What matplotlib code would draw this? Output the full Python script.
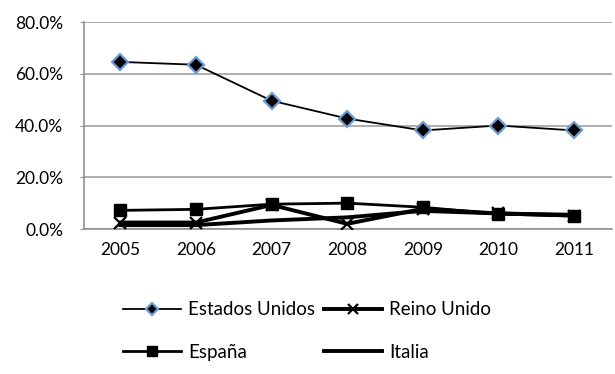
import matplotlib.pyplot as plt
from matplotlib.ticker import FuncFormatter

plt.rcParams['font.family'] = ['Lato', 'DejaVu Sans']

years = ['2005', '2006', '2007', '2008', '2009', '2010', '2011']
estados_unidos = [64.6, 63.5, 49.6, 42.7, 38.1, 40.0, 38.1]
reino_unido = [2.5, 2.5, 9.3, 2.0, 7.8, 6.0, 5.2]
espana = [7.2, 7.6, 9.6, 10.0, 8.4, 5.8, 5.0]
italia = [1.5, 1.5, 3.3, 4.5, 7.0, 6.0, 5.5]

fig = plt.figure(figsize=(6.15, 3.74), dpi=100)
ax = fig.add_axes([0.1366, 0.3877, 0.8584, 0.5533])

x = list(range(len(years)))
l_eu, = ax.plot(x, estados_unidos, color='black', lw=1.3, marker='D', markersize=8,
                markerfacecolor='black', markeredgecolor='#6f9bd3', markeredgewidth=1.6,
                label='Estados Unidos', zorder=5)
l_ru, = ax.plot(x, reino_unido, color='black', lw=2.8, marker='x', markersize=9,
                markeredgewidth=1.6, label='Reino Unido', zorder=4)
l_es, = ax.plot(x, espana, color='black', lw=2.0, marker='s', markersize=8.5,
                label='España', zorder=4)
l_it, = ax.plot(x, italia, color='black', lw=2.8, label='Italia', zorder=3)

ax.set_xlim(-0.48, 6.5)
ax.set_ylim(0, 80)
ax.set_yticks([0, 20, 40, 60, 80])
ax.yaxis.set_major_formatter(FuncFormatter(lambda v, p: f'{v:.1f}%'))
ax.set_xticks(x)
ax.set_xticklabels(years)
ax.grid(axis='y', color='#a0a0a0', lw=1.2)
ax.set_axisbelow(True)
for s in ['top', 'right']:
    ax.spines[s].set_visible(False)
for s in ['left', 'bottom']:
    ax.spines[s].set_color('#909090')
    ax.spines[s].set_linewidth(1.2)
ax.tick_params(axis='y', length=3, color='#909090', labelsize=12.5, pad=12)
ax.tick_params(axis='x', length=0, labelsize=12.5, pad=9)

# matplotlib fills legend columns first, so order for row-wise reading
handles = [l_eu, l_es, l_ru, l_it]
fig.legend(handles, [h.get_label() for h in handles], loc='upper left',
           bbox_to_anchor=(0.172, 0.24), ncol=2, frameon=False, fontsize=13.5,
           handlelength=3.1, handletextpad=0.4, columnspacing=0.45,
           labelspacing=1.38, markerscale=0.8)

fig.savefig('out.png', dpi=100)
